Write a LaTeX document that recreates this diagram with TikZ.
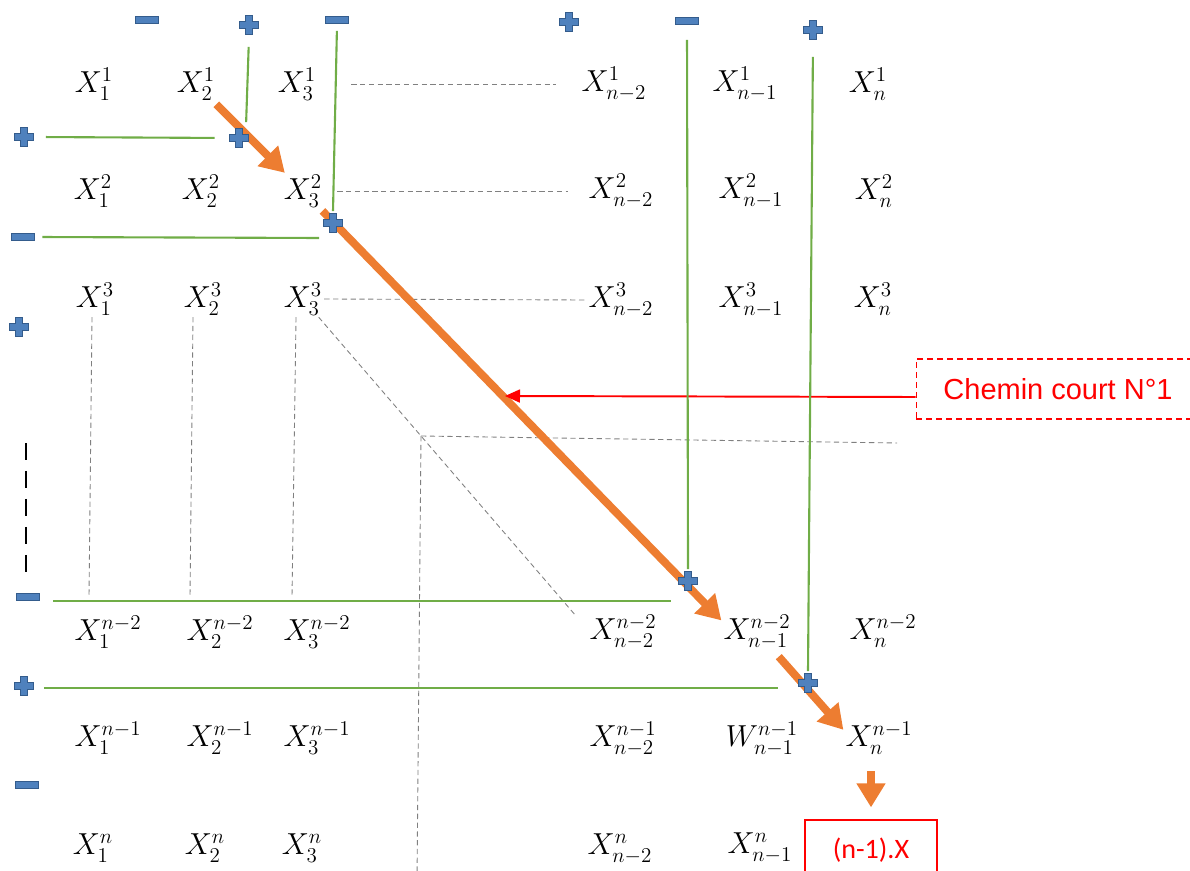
\documentclass[tikz,border=0pt]{standalone}
\usepackage{fontspec}
\usepackage{tikz}
\usetikzlibrary{arrows.meta,calc}
\newfontfamily\arialfont{Liberation Sans}
\newfontfamily\calibrifont{Carlito}
\DeclareMathSizes{16}{16}{12}{9}
\definecolor{signfill}{RGB}{79,129,189}
\definecolor{signdraw}{RGB}{52,92,140}
\definecolor{pathcolor}{RGB}{237,125,49}
\definecolor{linecolor}{RGB}{112,173,71}
\definecolor{guidecolor}{RGB}{128,128,128}
\tikzset{
  cell/.style={
    inner sep=1pt,
    font=\fontsize{16}{19}\selectfont
  },
  plus sign/.style={
    minimum size=0.46cm,
    inner sep=0pt,
    path picture={
      \filldraw[fill=signfill, draw=signdraw, line width=0.7pt]
        ([shift={(-0.07cm,0.19cm)}]path picture bounding box.center)
        -- ++(0.14cm,0) -- ++(0,-0.12cm) -- ++(0.12cm,0) -- ++(0,-0.14cm)
        -- ++(-0.12cm,0) -- ++(0,-0.12cm) -- ++(-0.14cm,0) -- ++(0,0.12cm)
        -- ++(-0.12cm,0) -- ++(0,0.14cm) -- ++(0.12cm,0) -- cycle;
    }
  },
  minus sign/.style={
    minimum width=0.52cm,
    minimum height=0.22cm,
    inner sep=0pt,
    path picture={
      \filldraw[fill=signfill, draw=signdraw, line width=0.7pt]
        ([shift={(-0.23cm,-0.075cm)}]path picture bounding box.center)
        rectangle ++(0.46cm,0.15cm);
    }
  },
  green line/.style={
    draw=linecolor,
    line width=1.2pt
  },
  guide/.style={
    draw=guidecolor,
    line width=0.5pt,
    dash pattern=on 3pt off 2pt
  },
  path arrow/.style={
    draw=pathcolor,
    line width=4.5pt,
    -{Triangle[length=0.48cm,width=0.55cm]}
  },
  red arrow/.style={
    draw=red,
    line width=1.1pt,
    -{Triangle[length=0.3cm,width=0.26cm]}
  },
  chemin box/.style={
    draw=red,
    line width=0.6pt,
    dash pattern=on 3.4pt off 2.3pt,
    text=red,
    minimum width=5.68cm,
    minimum height=1.2cm,
    font=\arialfont\fontsize{16.5}{19}\selectfont
  },
  result box/.style={
    draw=red,
    line width=0.7pt,
    text=red,
    minimum width=2.64cm,
    minimum height=1.2cm,
    font=\calibrifont\fontsize{16}{19}\selectfont
  }
}

\begin{document}
\begin{tikzpicture}[x=0.02cm, y=-0.02cm]
  \useasboundingbox (0,0) rectangle (1190,871);

  % matrix entries
  \node[cell] (x1-1) at (94,84) {$X_1^1$};
  \node[cell] (x2-1) at (196,84) {$X_2^1$};
  \node[cell] (x3-1) at (297,84) {$X_3^1$};
  \node[cell] (xa-1) at (614,84) {$X_{n-2}^1$};
  \node[cell] (xb-1) at (745,84) {$X_{n-1}^1$};
  \node[cell] (xc-1) at (868,84) {$X_n^1$};

  \node[cell] (x1-2) at (93,191) {$X_1^2$};
  \node[cell] (x2-2) at (201,191) {$X_2^2$};
  \node[cell] (x3-2) at (303,191) {$X_3^2$};
  \node[cell] (xa-2) at (621,191) {$X_{n-2}^2$};
  \node[cell] (xb-2) at (751,191) {$X_{n-1}^2$};
  \node[cell] (xc-2) at (874,191) {$X_n^2$};

  \node[cell] (x1-3) at (95,299) {$X_1^3$};
  \node[cell] (x2-3) at (203,299) {$X_2^3$};
  \node[cell] (x3-3) at (303,299) {$X_3^3$};
  \node[cell] (xa-3) at (621,300) {$X_{n-2}^3$};
  \node[cell] (xb-3) at (751,300) {$X_{n-1}^3$};
  \node[cell] (xc-3) at (873,299) {$X_n^3$};

  \node[cell] (x1-a) at (108,632) {$X_1^{n-2}$};
  \node[cell] (x2-a) at (220,632) {$X_2^{n-2}$};
  \node[cell] (x3-a) at (317,632) {$X_3^{n-2}$};
  \node[cell] (xa-a) at (623,632) {$X_{n-2}^{n-2}$};
  \node[cell] (xb-a) at (757,632) {$X_{n-1}^{n-2}$};
  \node[cell] (xc-a) at (883,631) {$X_n^{n-2}$};

  \node[cell] (x1-b) at (108,738) {$X_1^{n-1}$};
  \node[cell] (x2-b) at (220,738) {$X_2^{n-1}$};
  \node[cell] (x3-b) at (317,738) {$X_3^{n-1}$};
  \node[cell] (xa-b) at (623,739) {$X_{n-2}^{n-1}$};
  \node[cell] (xb-b) at (762,739) {$W_{n-1}^{n-1}$};
  \node[cell] (xc-b) at (879,738) {$X_n^{n-1}$};

  \node[cell] (x1-c) at (93,848) {$X_1^n$};
  \node[cell] (x2-c) at (205,848) {$X_2^n$};
  \node[cell] (x3-c) at (302,848) {$X_3^n$};
  \node[cell] (xa-c) at (620,849) {$X_{n-2}^n$};
  \node[cell] (xb-c) at (760,848) {$X_{n-1}^n$};

  \node[result box] (result) at (871,850) {(n-1).X};
  \node[chemin box] (chemin) at (1058,389) {Chemin court N°1};

  % signs on the border
  \node[minus sign] (t1) at (147,20) {};
  \node[plus sign] (t2) at (249,25) {};
  \node[minus sign] (t3) at (337,20) {};
  \node[plus sign] (t4) at (569,22) {};
  \node[minus sign] (t5) at (687,21) {};
  \node[plus sign] (t6) at (813,30) {};

  \node[plus sign] (l1) at (24,137) {};
  \node[minus sign] (l2) at (23,237) {};
  \node[plus sign] (l3) at (19,327) {};
  \node[minus sign] (l4) at (28,597) {};
  \node[plus sign] (l5) at (24,686) {};
  \node[minus sign] (l6) at (27,785) {};

  % dashed guides
  \draw[guide, shorten <=0.66cm, shorten >=0.48cm] (x3-1.east) -- (xa-1.west);
  \draw[guide, shorten <=0.26cm, shorten >=0.38cm] (x3-2.east) -- (xa-2.west);
  \draw[guide] (x3-3.east) -- (xa-3.west);
  \draw[guide] ([xshift=-0.06cm]x1-3.south) -- ([xshift=-0.12cm]x1-3.south |- l4);
  \draw[guide] ([xshift=-0.2cm]x2-3.south) -- ([xshift=-0.26cm]x2-3.south |- l4);
  \draw[guide] ([xshift=-0.14cm]x3-3.south) -- ([xshift=-0.22cm]x3-3.south |- l4);
  \coordinate (corner) at (421,436);
  \coordinate (guide-end) at (897,443);
  \coordinate (guide-low) at (417,880);
  \draw[guide] (x3-3) -- (corner) -- ($(x3-3)!2.3!(corner)$);
  \draw[guide] (corner) -- (guide-end);
  \draw[guide] (corner) -- (guide-low);
  \draw[line width=1.2pt, dash pattern=on 0.34cm off 0.22cm] (26,443) -- (26,575);

  % short path
  \coordinate (hit) at (505,396);
  \draw[path arrow, shorten <=0.06cm] (x2-1) -- (x3-2);
  \draw[path arrow, shorten <=0.05cm] (x3-2) -- ([yshift=-0.15cm]xb-a.north west);
  \draw[path arrow, shorten <=0.15cm] (xb-a) -- ([yshift=-0.2cm]xc-b.north west);
  \draw[path arrow, shorten <=0.3cm, shorten >=0.24cm] (xc-b.south -| result.north) -- (result.north);
  \draw[red arrow] ([yshift=-0.16cm]chemin.west) -- (hit);

  % signs on the diagonal and green separators
  \node[plus sign] (d1) at (239,138) {};
  \node[plus sign] (d2) at (333,223) {};
  \node[plus sign] (d3) at (688,581) {};
  \node[plus sign] (d4) at (808,683) {};
  \draw[green line, shorten <=0.2cm, shorten >=0.25cm] (l1.east) -- (d1.west);
  \draw[green line, shorten <=0.2cm, shorten >=0.08cm] (t2.south) -- ([xshift=0.14cm]d1.north);
  \draw[green line, shorten <=0.1cm] (t3.south) -- (d2.north);
  \draw[green line, shorten <=0.12cm, shorten >=0.04cm] (l2.east) -- ([yshift=-0.02cm]l2.east -| d2.west);
  \draw[green line, shorten <=0.26cm] (t5.south) -- (d3.north);
  \draw[green line, shorten <=0.24cm, shorten >=0.1cm] ([yshift=-0.08cm]l4.east) -- ([yshift=-0.08cm]l4.east -| d3.west);
  \draw[green line, shorten <=0.3cm] (t6.south) -- (d4.north);
  \draw[green line, shorten <=0.16cm, shorten >=0.36cm] ([yshift=-0.04cm]l5.east) -- ([yshift=-0.04cm]l5.east -| d4.west);
\end{tikzpicture}
\end{document}
